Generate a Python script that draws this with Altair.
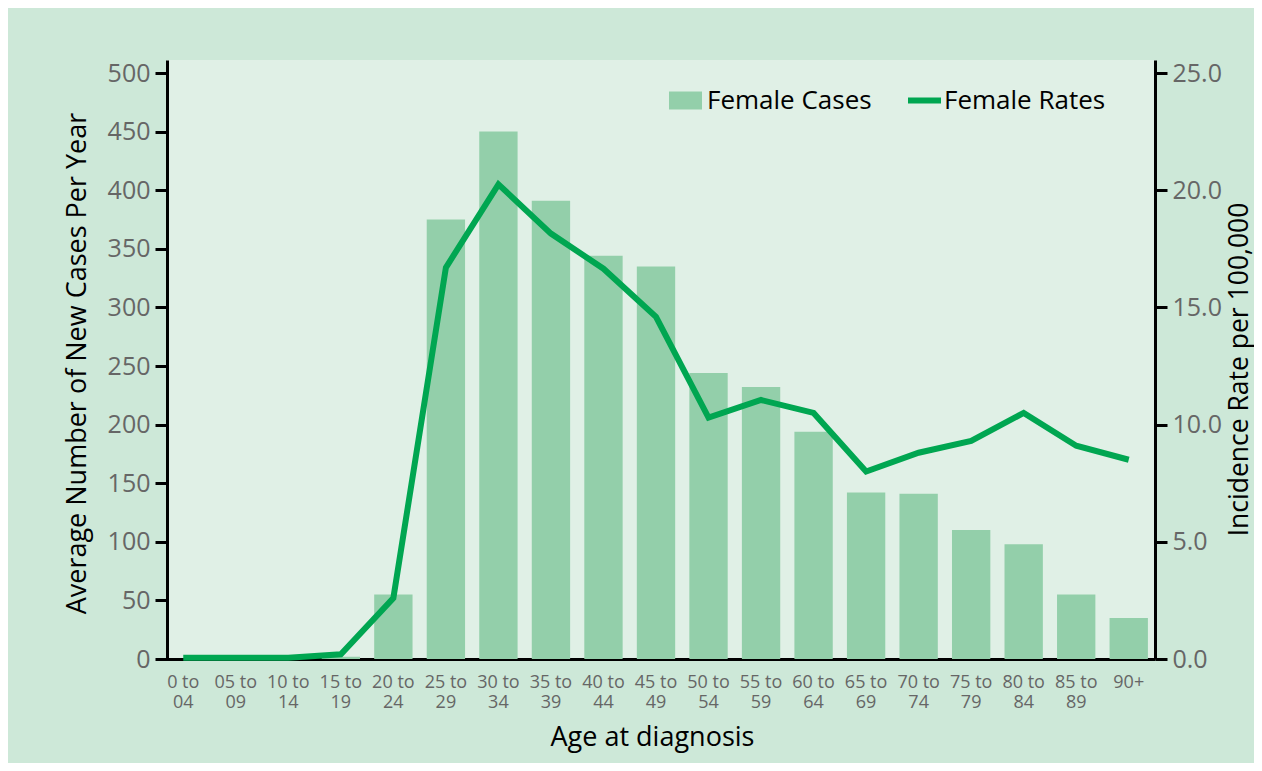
import altair as alt
import pandas as pd

categories = ["0 to 04", "05 to 09", "10 to 14", "15 to 19", "20 to 24", "25 to 29",
              "30 to 34", "35 to 39", "40 to 44", "45 to 49", "50 to 54", "55 to 59",
              "60 to 64", "65 to 69", "70 to 74", "75 to 79", "80 to 84", "85 to 89", "90+"]
cases = [0, 0, 0, 2, 55, 375, 450, 391, 344, 335, 244, 232, 194, 142, 141, 110, 98, 55, 35]
rates = [0.05, 0.05, 0.05, 0.2, 2.6, 16.7, 20.25, 18.15, 16.65, 14.6, 10.3, 11.05,
         10.5, 8.0, 8.8, 9.3, 10.5, 9.1, 8.5]
left_ticks = [0, 50, 100, 150, 200, 250, 300, 350, 400, 450, 500]
right_ticks = [0, 5, 10, 15, 20, 25]

df = pd.DataFrame({"age": categories, "cases": cases, "rates": rates})

BAR = "#93cfaa"
LINE = "#00a651"
OUTER = "#cde8d8"
INNER = "#e0f0e6"
FONT = "Open Sans"
W, H = 988, 599

xenc = alt.X(
    "age:N", sort=categories,
    scale=alt.Scale(range=[-10, W], paddingInner=0.27, paddingOuter=0.135),
    axis=alt.Axis(
        title="Age at diagnosis", ticks=False, labelAngle=0,
        labelExpr="split(replace(datum.label, ' to ', ' to|'), '|')",
        labelFont=FONT, labelFontSize=18, labelColor="#666666", labelLineHeight=20,
        labelPadding=14, domainColor="black", domainWidth=3,
        titleFont=FONT, titleFontSize=27, titleFontWeight="normal", titleColor="black",
        titleX=485, titleY=86, titleAlign="center", titleBaseline="alphabetic",
    ),
)

bars = alt.Chart(df).transform_calculate(s1="'Female Cases'").mark_bar(opacity=1).encode(
    x=xenc,
    y=alt.Y("cases:Q",
            scale=alt.Scale(domain=[0, 511.1], nice=False, zero=True),
            axis=alt.Axis(
                values=left_ticks, grid=False, tickSize=12, tickWidth=3, tickColor="black",
                domainColor="black", domainWidth=3,
                labelFont=FONT, labelFontSize=25, labelColor="#666666", labelPadding=5,
                title="Average Number of New Cases Per Year",
                titleFont=FONT, titleFontSize=27, titleFontWeight="normal", titleColor="black",
                titleAngle=270, titleX=-82, titleY=303, titleAlign="center",
                titleBaseline="alphabetic",
            )),
    color=alt.Color("s1:N", scale=alt.Scale(domain=["Female Cases"], range=[BAR]),
                    legend=alt.Legend(
                        title=None, orient="none", legendX=502, legendY=24,
                        symbolType="M-1,-0.55H1V0.55H-1Z", symbolSize=1089,
                        symbolStrokeWidth=0, symbolOpacity=1,
                        labelFont=FONT, labelFontSize=26, labelColor="black",
                        labelLimit=400, labelOffset=5, padding=0)),
)

line = alt.Chart(df).transform_calculate(s2="'Female Rates'").mark_line(strokeWidth=6).encode(
    x=xenc,
    y=alt.Y("rates:Q",
            scale=alt.Scale(domain=[0, 25.555], nice=False, zero=True),
            axis=alt.Axis(
                orient="right", values=right_ticks, format=".1f", grid=False,
                tickSize=12, tickWidth=3, tickColor="black",
                domainColor="black", domainWidth=3,
                labelFont=FONT, labelFontSize=25, labelColor="#666666", labelPadding=5,
                title="Incidence Rate per 100,000",
                titleFont=FONT, titleFontSize=26.5, titleFontWeight="normal", titleColor="black",
                titleAngle=270, titleX=92, titleY=309, titleAlign="center",
                titleBaseline="alphabetic",
            )),
    stroke=alt.Stroke("s2:N", scale=alt.Scale(domain=["Female Rates"], range=[LINE]),
                      legend=alt.Legend(
                          title=None, orient="none", legendX=738, legendY=21,
                          symbolType="stroke", symbolSize=1089, symbolStrokeWidth=6,
                          labelFont=FONT, labelFontSize=26, labelColor="black",
                          labelLimit=400, labelOffset=0, padding=0)),
)

chart = alt.layer(bars, line).resolve_scale(y="independent").properties(
    width=W, height=H,
    autosize=alt.AutoSizeParams(type="none"),
    padding={"left": 159, "top": 52, "right": 99, "bottom": 104},
    background=OUTER,
).configure_view(fill=INNER, strokeWidth=0)

chart.save("out.html", embed_options={"renderer": "svg", "actions": False})
